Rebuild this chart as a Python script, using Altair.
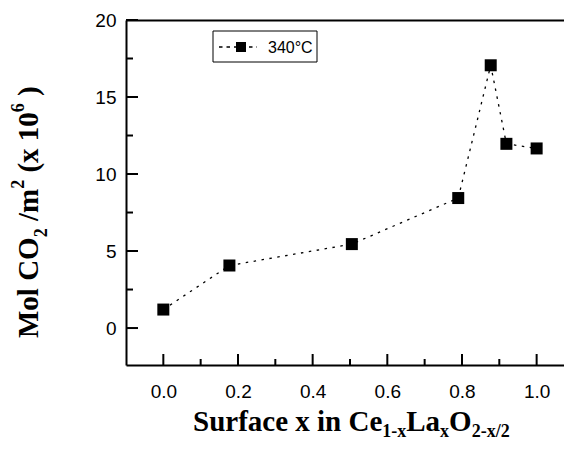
import altair as alt
import pandas as pd

# ---- data ----
x_values = [0.0, 0.177, 0.505, 0.79, 0.877, 0.919, 1.0]
y_values = [1.2, 4.06, 5.45, 8.44, 17.06, 11.96, 11.66]
series_name = "340°C"

x_major = [0.0, 0.2, 0.4, 0.6, 0.8, 1.0]
x_minor = [0.1, 0.3, 0.5, 0.7, 0.9]
y_major = [0, 5, 10, 15, 20]
y_minor = [2.5, 7.5, 12.5, 17.5]
x_domain = [-0.1, 1.0733]
y_domain = [-2.4, 20]

W, H = 438, 345
PAD = {"left": 118, "top": 12, "right": 0, "bottom": 77}

xs = alt.Scale(domain=x_domain, nice=False, zero=False)
ys = alt.Scale(domain=y_domain, nice=False, zero=False)

df = pd.DataFrame({"x": x_values, "y": y_values, "series": [series_name] * len(x_values)})

line = alt.Chart(df).mark_line(color="black", strokeWidth=1.3, strokeDash=[2.5, 5.5]).encode(
    x=alt.X("x:Q", scale=xs, axis=alt.Axis(orient="bottom", values=x_major, format=".1f",
                                           labelPadding=17, title=None)),
    y=alt.Y("y:Q", scale=ys, axis=alt.Axis(orient="left", values=y_major, format="d",
                                           labelPadding=10, title=None)),
)
points = alt.Chart(df).mark_point(shape="square", filled=True, size=144, color="black", opacity=1).encode(
    x=alt.X("x:Q", scale=xs, axis=None),
    y=alt.Y("y:Q", scale=ys, axis=None),
)

# inward ticks
xmaj = alt.Chart(pd.DataFrame({"v": x_major})).mark_rule(color="black", strokeWidth=2).encode(
    x=alt.X("v:Q", scale=xs, axis=alt.Axis(orient="top", labels=False, ticks=False, domain=True,
                                           title=None, grid=False)),
    y=alt.value(H), y2=alt.value(H - 11))
xmin = alt.Chart(pd.DataFrame({"v": x_minor})).mark_rule(color="black", strokeWidth=2).encode(
    x=alt.X("v:Q", scale=xs, axis=None), y=alt.value(H), y2=alt.value(H - 6))
ymaj = alt.Chart(pd.DataFrame({"v": y_major})).mark_rule(color="black", strokeWidth=2).encode(
    y=alt.Y("v:Q", scale=ys, axis=None), x=alt.value(0), x2=alt.value(12))
ymin = alt.Chart(pd.DataFrame({"v": y_minor})).mark_rule(color="black", strokeWidth=2).encode(
    y=alt.Y("v:Q", scale=ys, axis=None), x=alt.value(0), x2=alt.value(7))

# manual legend
one = pd.DataFrame({"t": [series_name]})
leg_box = alt.Chart(one).mark_rect(fill="white", stroke="black", strokeWidth=1).encode(
    x=alt.value(87), x2=alt.value(191), y=alt.value(11), y2=alt.value(42))
leg_line = alt.Chart(one).mark_rule(color="black", strokeWidth=1.3, strokeDash=[3.5, 4]).encode(
    x=alt.value(93), x2=alt.value(131), y=alt.value(27))
leg_pt = alt.Chart(one).mark_point(shape="square", filled=True, size=100, color="black", opacity=1).encode(
    x=alt.value(115), y=alt.value(27))
leg_txt = alt.Chart(one).mark_text(font="Liberation Sans", fontSize=16, align="left",
                                   baseline="middle", color="black").encode(
    text="t:N", x=alt.value(142), y=alt.value(27.5))

# ---- axis titles with sub/superscripts ----
TB = {" ": 250, "(": 333, ")": 333, "-": 333, "/": 278, "0": 500, "1": 500, "2": 500, "6": 500,
      "C": 722, "L": 667, "M": 944, "O": 778, "S": 556, "a": 500, "c": 444, "e": 444, "f": 333,
      "i": 278, "l": 278, "m": 833, "n": 556, "o": 500, "r": 444, "u": 556, "x": 500}
F, S = 29, 18


def tw(s, size):
    return sum(TB.get(c, 500) for c in s) / 1000.0 * size


x_title_pieces = [("Surface x in Ce", "main"), ("1-x", "sub"), ("La", "main"), ("x", "sub"),
                  ("O", "main"), ("2-x/2", "sub")]
y_title_pieces = [("Mol CO", "main"), ("2", "sub"), (" /m", "main"), ("2", "sup"),
                  (" (x 10", "main"), ("6", "sup"), (" )", "main")]

title_layers = []
# x title
pos = 67.0
base = 411.0
for txt, kind in x_title_pieces:
    size = F if kind == "main" else S
    stripped = txt.lstrip(" ")
    lead = tw(txt[: len(txt) - len(stripped)], size)
    sh = {"main": 0, "sub": 6, "sup": -14}[kind]
    title_layers.append(
        alt.Chart(pd.DataFrame({"t": [stripped]})).mark_text(
            font="Liberation Serif", fontWeight="bold", fontSize=size, align="left",
            baseline="alphabetic", color="black").encode(
            text="t:N", x=alt.value(pos + lead), y=alt.value(base + sh)))
    pos += tw(txt, size)

# y title (rotated)
pos = 318.0
base = -88.5
for txt, kind in y_title_pieces:
    size = F if kind == "main" else S
    stripped = txt.lstrip(" ")
    lead = tw(txt[: len(txt) - len(stripped)], size)
    sh = {"main": 0, "sub": 9, "sup": -14}[kind]
    title_layers.append(
        alt.Chart(pd.DataFrame({"t": [stripped]})).mark_text(
            font="Liberation Serif", fontWeight="bold", fontSize=size, align="left",
            baseline="alphabetic", color="black", angle=270).encode(
            text="t:N", x=alt.value(base + sh), y=alt.value(pos - lead)))
    pos -= tw(txt, size)

chart = alt.layer(
    line, points, xmaj, xmin, ymaj, ymin, leg_box, leg_line, leg_pt, leg_txt, *title_layers
).resolve_axis(x="independent", y="independent").properties(
    width=W, height=H, autosize="none", padding=PAD
).configure_view(stroke=None).configure_axis(
    grid=False, ticks=False, tickSize=0, domainColor="black", domainWidth=2,
    labelColor="black", labelFont="Liberation Sans", labelFontSize=19
)

chart.save("out.html", embed_options={"renderer": "svg", "actions": False})
